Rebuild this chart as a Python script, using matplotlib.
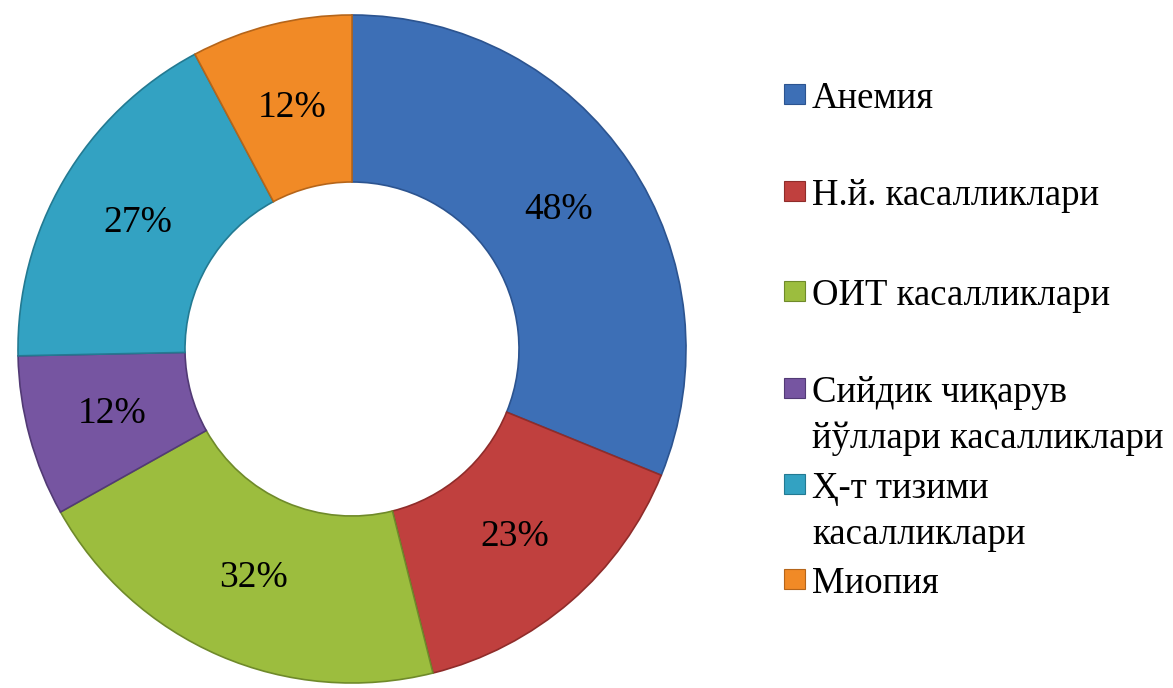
import numpy as np
import matplotlib
matplotlib.use("Agg")
import matplotlib.pyplot as plt
from matplotlib.patches import Rectangle

plt.rcParams["font.family"] = ["Liberation Serif", "DejaVu Serif"]

labels = ["Анемия", "Н.й. касалликлари", "ОИТ касалликлари",
          "Сийдик чиқарув\nйўллари касалликлари", "Ҳ-т тизими\nкасалликлари", "Миопия"]
values = [48, 23, 32, 12, 27, 12]
colors = ["#3d6fb6", "#c0403e", "#9cbd3e", "#7655a1", "#33a2c2", "#f18a26"]
edges = ["#2c5490", "#8f2c2a", "#6f8a2a", "#523a75", "#237a92", "#b5651a"]

W, H = 1173, 688
fig = plt.figure(figsize=(W / 100, H / 100), dpi=100)

cx, cy, r = 352, 349, 334
ax = fig.add_axes([(cx - r) / W, (H - cy - r) / H, 2 * r / W, 2 * r / H])
wedges, _ = ax.pie(values, colors=colors, startangle=90, counterclock=False,
                   radius=1, wedgeprops=dict(width=0.5, linewidth=1.2))
for w, ec in zip(wedges, edges):
    w.set_edgecolor(ec)
ax.set_aspect("equal")
ax.set_xlim(-1, 1)
ax.set_ylim(-1, 1)
ax.axis("off")

for w, v in zip(wedges, values):
    mid = np.deg2rad((w.theta1 + w.theta2) / 2)
    ax.text(0.745 * np.cos(mid), 0.745 * np.sin(mid), str(v) + "%",
            ha="center", va="center", fontsize=27)

# legend placed by hand to follow the original spacing
baselines = [108, 205, 305, 402, 498, 593]
for lab, col, ec, yb in zip(labels, colors, edges, baselines):
    fig.patches.append(Rectangle((784 / W, (H - yb + 4) / H), 21 / W, 20 / H,
                                 transform=fig.transFigure, facecolor=col,
                                 edgecolor=ec, linewidth=0.8))
    first, *rest = lab.split("\n")
    fig.text(812 / W, (H - yb) / H, first, fontsize=26.5, va="baseline", ha="left")
    for i, line in enumerate(rest):
        fig.text(812 / W, (H - yb - 46 * (i + 1)) / H, line, fontsize=26.5,
                 va="baseline", ha="left")

plt.savefig("out.png", dpi=100)
plt.close()
